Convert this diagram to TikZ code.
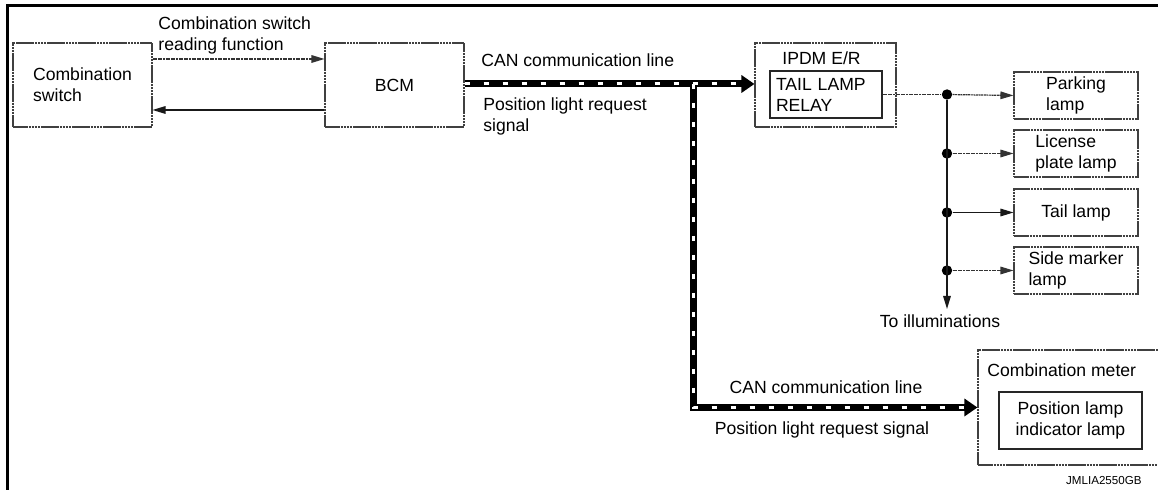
\documentclass[tikz,border=0pt]{standalone}
\usepackage{fontspec}
\setmainfont{Liberation Sans}
\usetikzlibrary{arrows.meta}
\begin{document}
\begin{tikzpicture}[x=0.5pt,y=-0.5pt,
  font=\fontsize{8.8pt}{10.5pt}\selectfont,
  box/.style={draw=black!75, line width=0.55pt, dash pattern=on 1.3pt off 0.25pt, align=left, inner sep=0pt},
  ibox/.style={draw=black!85, line width=0.65pt, inner sep=0pt},
  dotline/.style={draw=black!80, line width=0.6pt, dash pattern=on 1pt off 0.3pt},
  solidline/.style={draw=black!90, line width=0.6pt},
  tip/.tip={Triangle[length=6.5pt,width=3.8pt]},
  canb/.style={draw=black, line width=3.5pt},
  canw/.style={draw=white, line width=1.5pt, dash pattern=on 2.6pt off 6.9pt},
  cantip/.tip={Triangle[length=6.5pt,width=8.5pt]},
  dot/.style={circle, fill=black, inner sep=0pt, minimum size=5.2pt},
  lbl/.style={inner sep=0pt}
]
\useasboundingbox (0,0) rectangle (1158,490);
% frame
\draw[line width=1.6pt] (7.5,492) -- (7.5,5.5) -- (1162,5.5);

% boxes
\node[box, minimum width=69.5pt, minimum height=42pt] (cs) at (82.5,85) {Combination\\switch};
\node[box, minimum width=69.5pt, minimum height=42pt] (bcm) at (394.5,85) {BCM};
\node[box, minimum width=70.5pt, minimum height=42pt] (ipdm) at (825.5,85) {};
\node[lbl, anchor=base west] (ipdmt) at (782,65) {IPDM E/R};
\node[ibox, minimum width=56pt, minimum height=23.5pt, text width=50pt, align=left] (relay) at (826,94.5) {TAIL LAMP\\RELAY};

\node[box, minimum width=62pt, minimum height=23.5pt] (park) at (1076,95.5) {Parking\\lamp};
\node[box, minimum width=62pt, minimum height=23.5pt] (lic) at (1076,153.5) {License\\plate lamp};
\node[box, minimum width=62pt, minimum height=23.5pt] (tail) at (1076,212.5) {Tail lamp};
\node[box, minimum width=62pt, minimum height=23.5pt] (side) at (1076,270.5) {Side marker\\lamp};

\node[box, minimum width=93pt, minimum height=57.5pt] (cm) at (1071,407.5) {};
\node[lbl, anchor=base west] (cmt) at (987,377) {Combination meter};
\node[ibox, minimum width=71.5pt, minimum height=28.5pt, align=center] (pli) at (1070.5,420.5) {Position lamp\\indicator lamp};

% dots
\node[dot] (d1) at (947,94.5) {};
\node[dot] (d2) at (947,153.5) {};
\node[dot] (d3) at (947,212.5) {};
\node[dot] (d4) at (947,270.5) {};
\coordinate (ill) at (947,309);

% helper coordinates
\coordinate (yA) at (0,59);
\coordinate (yB) at (0,110);
\coordinate (yC) at (0,84);
\coordinate (br) at (693,84);

% combination switch <-> BCM
\draw[dotline, -tip] (cs.east |- yA) -- (bcm.west |- yA);
\draw[solidline, -tip] (bcm.west |- yB) -- (cs.east |- yB);

% CAN lines
\draw[canb, -cantip] (bcm.east |- yC) -- (ipdm.west |- yC);
\draw[canb, -cantip] (br) |- (cm.west);
\draw[canw, shorten >=6.5pt] (bcm.east |- yC) -- (ipdm.west |- yC);
\draw[canw, shorten >=6.5pt] (br) |- (cm.west);

% relay outputs
\draw[dotline] (relay.east) -- (d1);
\draw[solidline, -tip] (d1) -- (ill);
\draw[dotline, -tip] (d1) -- (park.west);
\draw[dotline, -tip] (d2) -- (lic.west);
\draw[solidline, -tip] (d3) -- (tail.west);
\draw[dotline, -tip] (d4) -- (side.west);

% labels
\node[lbl, anchor=north west, align=left] (rt) at (158,16.3) {Combination switch\\reading function};
\node[lbl, anchor=base west] (can1) at (481,67) {CAN communication line};
\node[lbl, anchor=north west, align=left] (plr1) at (483,97.3) {Position light request\\signal};
\node[lbl, anchor=base] (illt) at (940,328) {To illuminations};
\node[lbl, anchor=base] (can2) at (826,394) {CAN communication line};
\node[lbl, anchor=base] (plr2) at (822,435) {Position light request signal};
\node[lbl, anchor=base east, font=\fontsize{5.8pt}{7pt}\selectfont] (code) at (1142,485) {JMLIA2550GB};
\end{tikzpicture}
\end{document}
